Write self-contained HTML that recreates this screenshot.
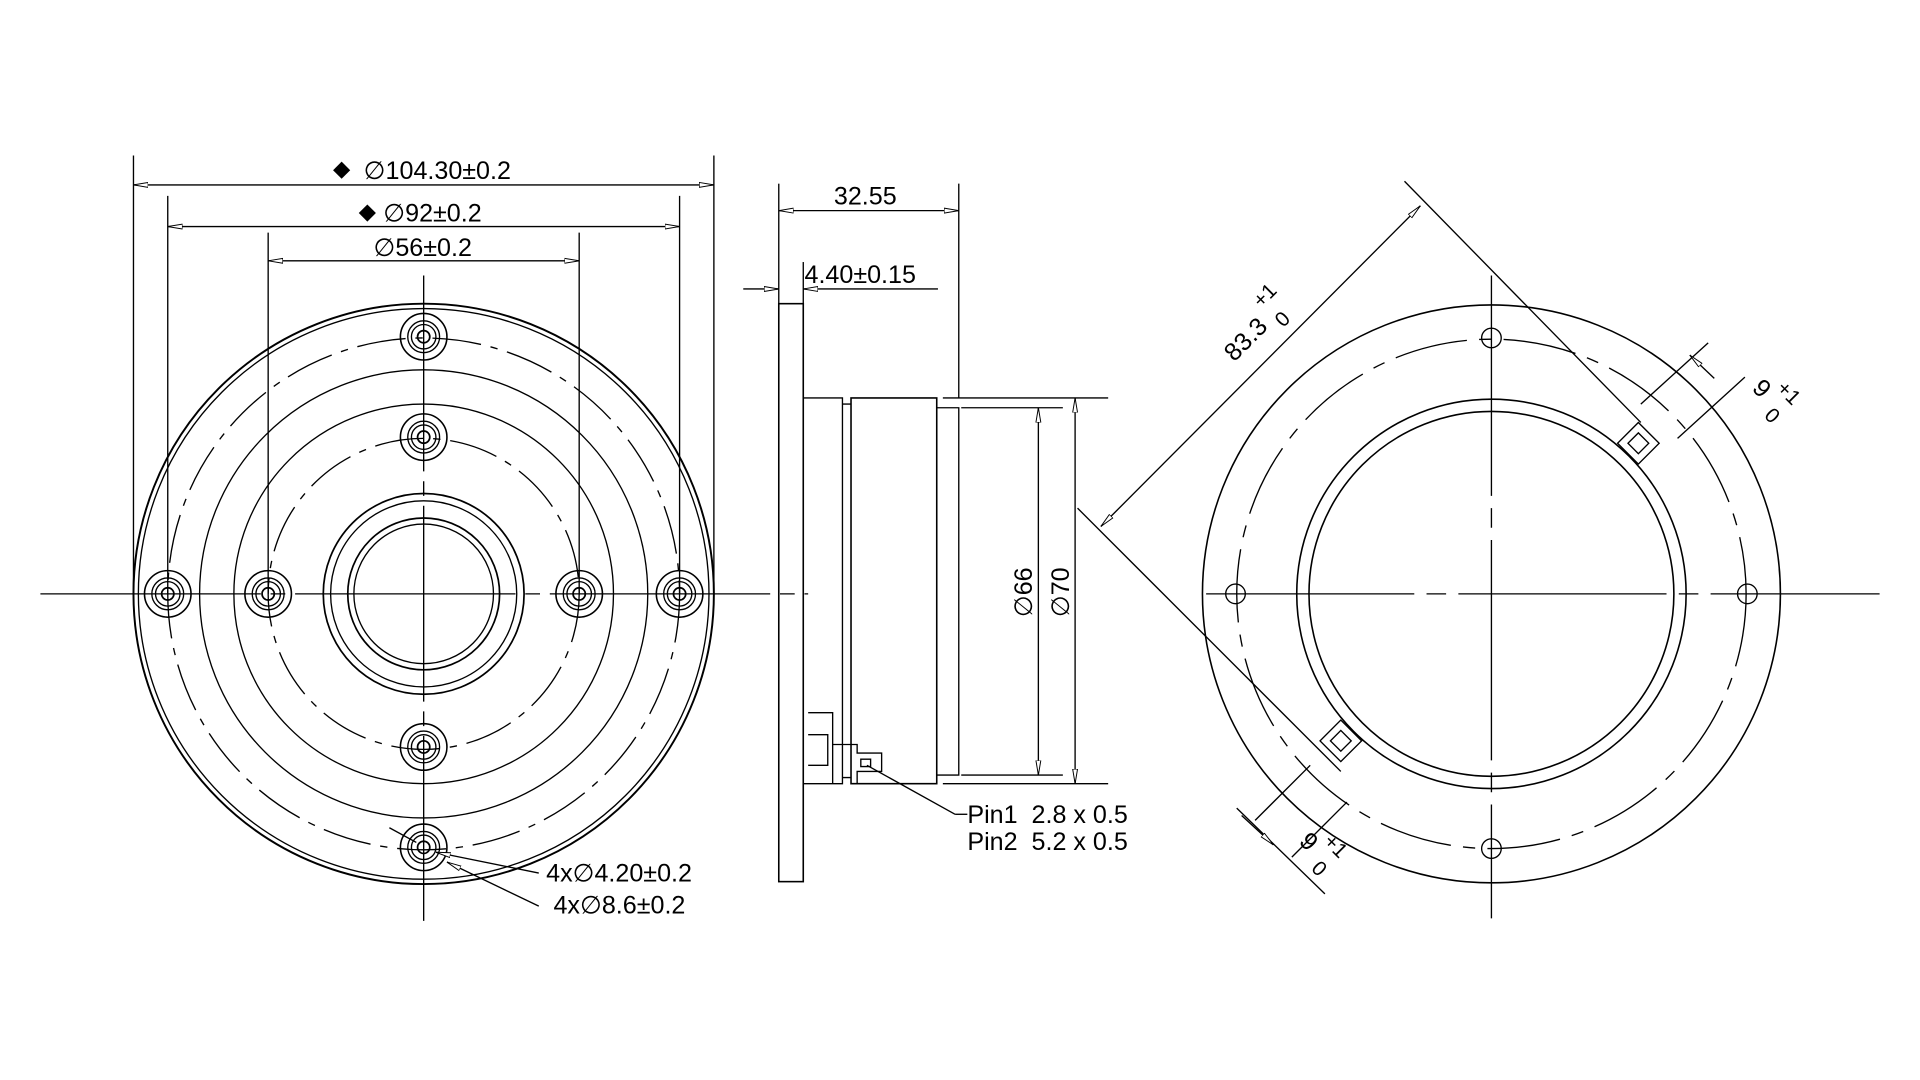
<!DOCTYPE html>
<html><head><style>html,body{margin:0;padding:0;background:#fff;}svg{display:block}text{white-space:pre}</style></head><body>
<svg width="1920" height="1080" viewBox="0 0 1568 882" xmlns="http://www.w3.org/2000/svg" font-family="Liberation Sans, sans-serif" fill="none" stroke="#000" stroke-width="1.1">
<defs>
<marker id="a" viewBox="0 0 12 6" refX="12" refY="3" markerWidth="12" markerHeight="6" orient="auto-start-reverse" markerUnits="userSpaceOnUse"><path d="M0,1 L12,3 L0,5 z" fill="#fff" stroke="#000" stroke-width="0.8"/></marker>
<g id="h">
<circle r="19" stroke-width="1.3"/><circle r="13"/><circle r="10"/><circle r="5" stroke-width="1.4"/>
</g>
</defs>
<!-- LEFT VIEW -->
<g>
<line x1="33" y1="485" x2="660" y2="485" stroke-dasharray="180 8 12 8"/>
<line x1="346" y1="225" x2="346" y2="752" stroke-dasharray="160 8 12 8"/>
<circle cx="346" cy="485" r="237" stroke-width="1.6"/>
<circle cx="346" cy="485" r="233"/>
<circle cx="346" cy="485" r="209" stroke-dasharray="40 8 6 8"/>
<circle cx="346" cy="485" r="183"/>
<circle cx="346" cy="485" r="155"/>
<circle cx="346" cy="485" r="127" stroke-dasharray="40 8 6 8"/>
<circle cx="346" cy="485" r="82" stroke-width="1.4"/>
<circle cx="346" cy="485" r="76"/>
<circle cx="346" cy="485" r="62" stroke-width="1.4"/>
<circle cx="346" cy="485" r="57"/>
<use href="#h" x="346" y="275"/><use href="#h" x="346" y="357"/><use href="#h" x="137" y="485"/><use href="#h" x="219" y="485"/>
<use href="#h" x="473" y="485"/><use href="#h" x="555" y="485"/><use href="#h" x="346" y="610"/><use href="#h" x="346" y="692"/>
<line x1="109" y1="127" x2="109" y2="485"/><line x1="583" y1="127" x2="583" y2="485"/>
<line x1="109" y1="151" x2="583" y2="151" marker-start="url(#a)" marker-end="url(#a)"/>
<line x1="137" y1="160" x2="137" y2="485"/><line x1="555" y1="160" x2="555" y2="485"/>
<line x1="137" y1="185" x2="555" y2="185" marker-start="url(#a)" marker-end="url(#a)"/>
<line x1="219" y1="190" x2="219" y2="485"/><line x1="473" y1="190" x2="473" y2="485"/>
<line x1="219" y1="213" x2="473" y2="213" marker-start="url(#a)" marker-end="url(#a)"/>
<line x1="318" y1="676" x2="340" y2="688"/>
<line x1="440" y1="713" x2="356" y2="696" marker-end="url(#a)"/>
<line x1="440" y1="740" x2="365" y2="704" marker-end="url(#a)"/>
</g>
<g fill="#000" stroke="none" font-size="20.5">
<path d="M272,139 l7,-7 l7,7 l-7,7z"/><text x="297" y="146">∅104.30±0.2</text>
<path d="M293,174 l7,-7 l7,7 l-7,7z"/><text x="313" y="181">∅92±0.2</text>
<text x="305" y="209">∅56±0.2</text>
<text x="446" y="720">4x∅4.20±0.2</text>
<text x="452" y="746">4x∅8.6±0.2</text>
</g>
<!-- SIDE VIEW -->
<g>
<rect x="636" y="248" width="20" height="472" stroke-width="1.3"/>
<path d="M656,325 H688 V640 H656"/>
<rect x="695" y="325" width="70" height="315" stroke-width="1.3"/>
<path d="M765,333 H783 V633 H765"/>
<path d="M688,330 H695 M688,635 H695"/>
<path d="M660,582 H680 V640 M660,600 H676 V625 H660 M680,608 H700 V615 H720 V630 H700 V640"/>
<path d="M703,620 h8 v6 h-8z"/>
<line x1="636" y1="150" x2="636" y2="248"/><line x1="783" y1="150" x2="783" y2="325"/>
<line x1="636" y1="172" x2="783" y2="172" marker-start="url(#a)" marker-end="url(#a)"/>
<line x1="656" y1="214" x2="656" y2="248"/>
<line x1="607" y1="236" x2="636" y2="236" marker-end="url(#a)"/>
<line x1="766" y1="236" x2="656" y2="236" marker-end="url(#a)"/>
<line x1="770" y1="325" x2="905" y2="325"/>
<line x1="785" y1="333" x2="868" y2="333"/>
<line x1="770" y1="640" x2="905" y2="640"/>
<line x1="785" y1="633" x2="868" y2="633"/>
<line x1="848" y1="333" x2="848" y2="633" marker-start="url(#a)" marker-end="url(#a)"/>
<line x1="878" y1="325" x2="878" y2="640" marker-start="url(#a)" marker-end="url(#a)"/>
<line x1="708" y1="625" x2="780" y2="665"/><line x1="780" y1="665" x2="790" y2="665"/>
</g>
<g fill="#000" stroke="none" font-size="20.5">
<text x="681" y="167">32.55</text>
<text x="657" y="231">4.40±0.15</text>
<text transform="translate(843,504) rotate(-90)">∅66</text>
<text transform="translate(873,504) rotate(-90)">∅70</text>
<text x="790" y="672">Pin1  2.8 x 0.5</text>
<text x="790" y="694">Pin2  5.2 x 0.5</text>
</g>
<!-- RIGHT VIEW -->
<g>
<line x1="985" y1="485" x2="1535" y2="485" stroke-dasharray="170 10 16 10"/>
<line x1="1218" y1="225" x2="1218" y2="750" stroke-dasharray="180 10 16 10"/>
<circle cx="1218" cy="485" r="236" stroke-width="1.3"/>
<circle cx="1218" cy="485" r="208" stroke-dasharray="60 10 10 10"/>
<circle cx="1218" cy="485" r="159" stroke-width="1.3"/>
<circle cx="1218" cy="485" r="149" stroke-width="1.3"/>
<circle cx="1218" cy="276" r="8"/><circle cx="1009" cy="485" r="8"/><circle cx="1427" cy="485" r="8"/><circle cx="1218" cy="693" r="8"/>
<g transform="rotate(-45 1338 362)"><rect x="1326" y="350" width="24" height="24"/><rect x="1332" y="356" width="12" height="12"/></g>
<g transform="rotate(-45 1095 605)"><rect x="1083" y="593" width="24" height="24"/><rect x="1089" y="599" width="12" height="12"/></g>
<line x1="1147" y1="148" x2="1340" y2="345"/>
<line x1="880" y1="415" x2="1095" y2="630"/>
<line x1="1160" y1="168" x2="899" y2="430" marker-start="url(#a)" marker-end="url(#a)"/>
<line x1="1340" y1="330" x2="1395" y2="280"/><line x1="1370" y1="358" x2="1425" y2="308"/>
<line x1="1380" y1="290" x2="1400" y2="309" marker-start="url(#a)"/>
<line x1="1082" y1="730" x2="1010" y2="660"/><line x1="1055" y1="700" x2="1100" y2="655"/><line x1="1025" y1="670" x2="1070" y2="625"/>
<line x1="1014" y1="666" x2="1040" y2="690" marker-end="url(#a)"/>
</g>
<g fill="#000" stroke="none" font-size="20.5">
<text transform="translate(1008,296) rotate(-45)">83.3</text>
<text transform="translate(1030,252) rotate(-45)" font-size="17">+1</text>
<text transform="translate(1048,268) rotate(-45)" font-size="17">0</text>
<text transform="translate(1430,318) rotate(45)">9</text>
<text transform="translate(1450,318) rotate(45)" font-size="17">+1</text>
<text transform="translate(1440,340) rotate(45)" font-size="17">0</text>
<text transform="translate(1060,688) rotate(45)">9</text>
<text transform="translate(1080,688) rotate(45)" font-size="17">+1</text>
<text transform="translate(1070,710) rotate(45)" font-size="17">0</text>
</g>
</svg>
</body></html>
